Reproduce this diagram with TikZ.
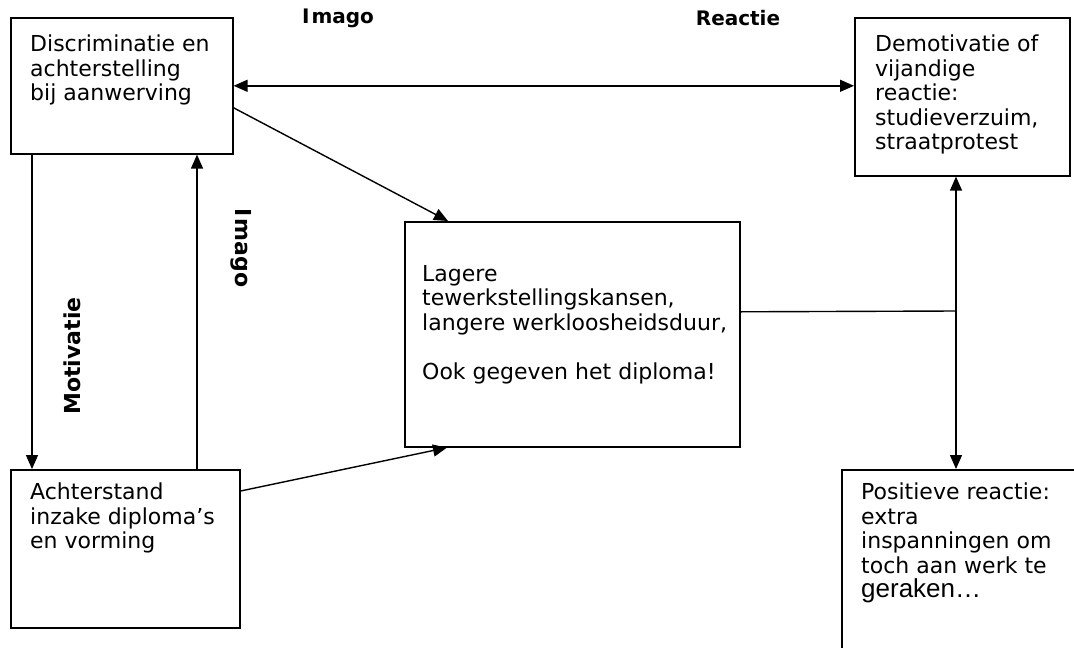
\documentclass[tikz,border=0pt]{standalone}
\usepackage{fontspec}
\setmainfont{DejaVu Sans}
\newfontfamily\gfont{Liberation Sans}
\usetikzlibrary{arrows.meta}
\begin{document}
\begin{tikzpicture}[x=1pt,y=-1pt,
  box/.style={draw=black, line width=1.6pt, inner sep=0pt, anchor=north west},
  txt/.style={inner sep=0pt, anchor=north west, align=left, font=\fontsize{22}{24.5}\selectfont},
  lbl/.style={inner sep=0pt, font=\bfseries\fontsize{20}{22}\selectfont},
  vlbl/.style={inner sep=0pt, font=\bfseries\fontsize{22}{24}\selectfont},
  conn/.style={line width=1.4pt},
  arr/.style={conn, -{Triangle[length=14pt,width=12pt]}},
  darr/.style={conn, {Triangle[length=14pt,width=12pt]}-{Triangle[length=14pt,width=12pt]}}]
\useasboundingbox (0,0) rectangle (1074,648);
\clip (0,0) rectangle (1074,648);
\fill[white] (0,0) rectangle (1074,648);
% boxes
\node[box, minimum width=222pt, minimum height=136pt] (A) at (10,17) {};
\node[box, minimum width=215pt, minimum height=158pt] (D) at (854,17) {};
\node[box, minimum width=335pt, minimum height=225pt] (C) at (404,221) {};
\node[box, minimum width=229pt, minimum height=158pt] (B) at (10,469) {};
\node[box, minimum width=260pt, minimum height=220pt] (E) at (841,469) {};
% texts
\node[txt] (Atxt) at (30,35) {Discriminatie en\\achterstelling\\bij aanwerving};
\node[txt] (Dtxt) at (875,35) {Demotivatie of\\vijandige\\reactie:\\studieverzuim,\\straatprotest};
\node[txt] (Ctxt) at (422,265) {Lagere\\tewerkstellingskansen,\\langere werkloosheidsduur,\\[24.5pt]Ook gegeven het diploma!};
\node[txt] (Btxt) at (30,483) {Achterstand\\inzake diploma’s\\en vorming};
\node[txt] (Etxt) at (861,483) {Positieve reactie:\\extra\\inspanningen om\\toch aan werk te\\{\gfont\fontsize{26}{24.5}\selectfont geraken…}};
% labels
\node[lbl] (l1) at (338,18) {I\kern2pt mago};
\node[lbl] (l2) at (738,18) {Reactie};
\node[vlbl, rotate=90] (l3) at (72,356) {Motivatie};
\node[vlbl, rotate=-90] (l4) at (241,248) {I\kern2pt mago};
% connectors
\draw[darr] (A.east) -- (A.east -| D.west);
\draw[arr] ([yshift=-22pt]A.east) -- ([xshift=44pt]C.north west);
\draw[arr] ([xshift=22pt]A.south west) -- ([xshift=22pt]B.north west);
\draw[arr] ([xshift=187pt]B.north west) -- ([xshift=187pt]A.south west);
\draw[arr] ([yshift=-22pt]B.north east) -- ([xshift=43pt]C.south west);
\coordinate (J) at (956,311);
\draw[conn] ([yshift=22.5pt]C.east) -- (J);
\draw[arr] (J) -- (J |- D.south);
\draw[arr] (J) -- (J |- E.north);
\end{tikzpicture}
\end{document}
